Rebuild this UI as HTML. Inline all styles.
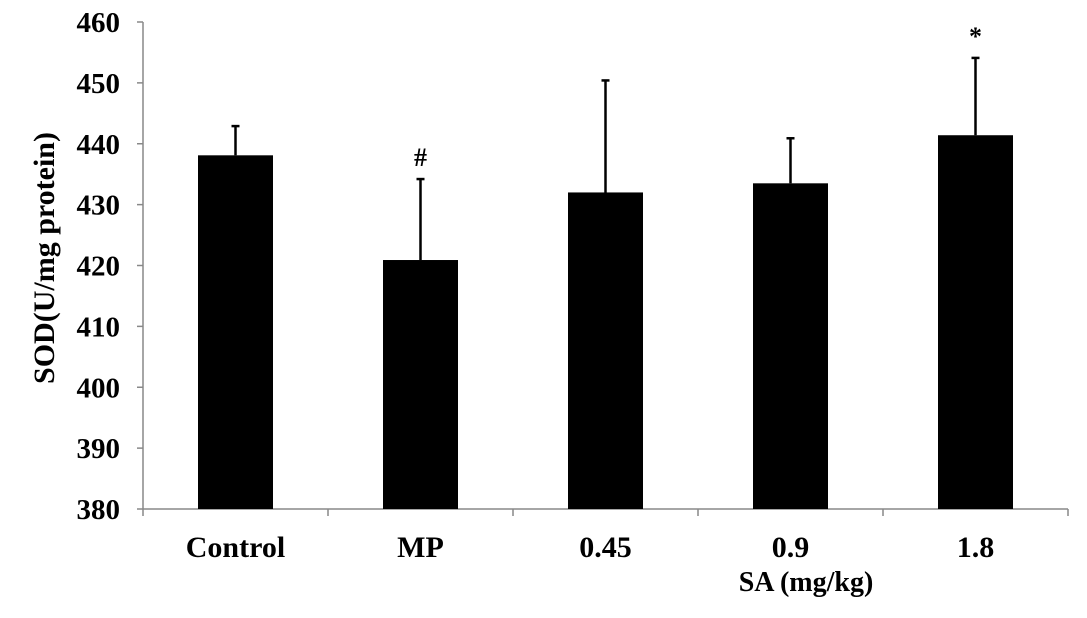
<!DOCTYPE html>
<html><head><meta charset="utf-8"><style>
html,body{margin:0;padding:0;background:#fff;}
svg text{font-family:"Liberation Serif",serif;font-weight:bold;fill:#000;}
</style></head><body>
<svg id="chart" width="1087" height="613" viewBox="0 0 1087 613" xmlns="http://www.w3.org/2000/svg"></svg>
<script>
const categories = ["Control","MP","0.45","0.9","1.8"];
const means = [438.1, 420.9, 432.0, 433.5, 441.4];
const errors = [4.8, 13.3, 18.4, 7.4, 12.7];
const marks = ["", "#", "", "", "*"];
const yTicks = [380,390,400,410,420,430,440,450,460];

const NS="http://www.w3.org/2000/svg";
const svg=document.getElementById('chart');
const x0=143, x1=1068, yTop=22, yBot=509, yMin=380, yMax=460;
const band=(x1-x0)/categories.length, bw=75;
function y(v){return yBot-(v-yMin)/(yMax-yMin)*(yBot-yTop);}
function xc(i){return x0+band*(i+0.5);}
function mk(tag,attrs,parent){const e=document.createElementNS(NS,tag);for(const k in attrs)e.setAttribute(k,attrs[k]);(parent||svg).appendChild(e);return e;}

const yAxis=mk('g',{});


mk('line',{x1:x0,y1:yTop,x2:x0,y2:yBot,stroke:'#888','stroke-width':1.5},yAxis);
yTicks.forEach(t=>{
  mk('line',{x1:x0-6,y1:y(t),x2:x0,y2:y(t),stroke:'#888','stroke-width':1.5},yAxis);
  const tx=mk('text',{x:120,y:y(t)+10,'text-anchor':'end','font-size':29},yAxis);
  tx.textContent=t;
  
  
});
const yt=mk('text',{x:0,y:0,'text-anchor':'middle','font-size':30,transform:'translate(54,258) rotate(-90)'});
yt.textContent='SOD(U/mg protein)';



const xAxis=mk('g',{});


mk('line',{x1:x0,y1:yBot,x2:x1,y2:yBot,stroke:'#888','stroke-width':1.5},xAxis);
for(let i=0;i<=categories.length;i++){
  mk('line',{x1:x0+band*i,y1:yBot,x2:x0+band*i,y2:yBot+7,stroke:'#888','stroke-width':1.5},xAxis);
}

categories.forEach((c,i)=>{
  const cx=xc(i);
  const bar=mk('rect',{x:cx-bw/2,y:y(means[i]),width:bw,height:yBot-y(means[i]),fill:'#000'});
  
  
  const eb=mk('g',{});
  
  
  mk('line',{x1:cx,y1:y(means[i]),x2:cx,y2:y(means[i]+errors[i]),stroke:'#000','stroke-width':2.5},eb);
  mk('line',{x1:cx-4,y1:y(means[i]+errors[i]),x2:cx+4,y2:y(means[i]+errors[i]),stroke:'#000','stroke-width':2.5},eb);
  if(marks[i]){
    const m=mk('text',{x:cx,y:y(means[i]+errors[i])-13,'text-anchor':'middle','font-size':26});
    m.textContent=marks[i];
    
    
  }
  const l=mk('text',{x:cx,y:557,'text-anchor':'middle','font-size':30});
  l.textContent=c;
  
  
});
const xt=mk('text',{x:806,y:591,'text-anchor':'middle','font-size':28});
xt.textContent='SA  (mg/kg)';
xt.setAttribute('xml:space','preserve');


</script>
</body></html>
